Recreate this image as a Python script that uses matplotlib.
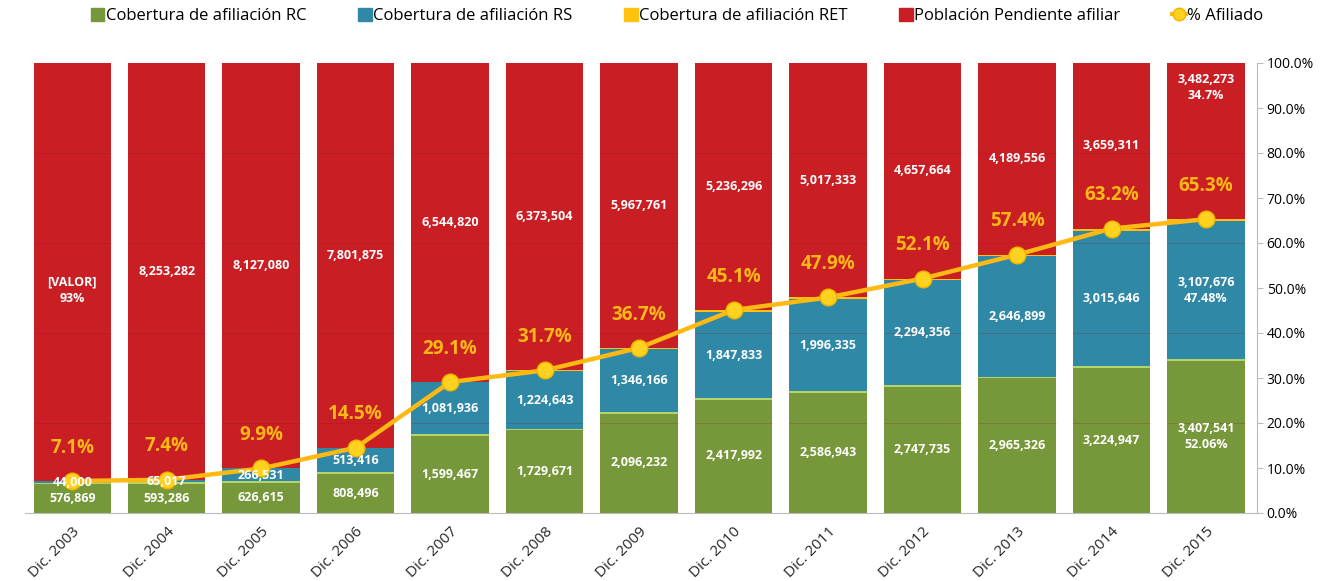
import matplotlib
matplotlib.use("Agg")
import matplotlib.pyplot as plt
import numpy as np
from matplotlib.lines import Line2D
from matplotlib.patches import Patch

categories = ["Dic. 2003", "Dic. 2004", "Dic. 2005", "Dic. 2006", "Dic. 2007", "Dic. 2008",
              "Dic. 2009", "Dic. 2010", "Dic. 2011", "Dic. 2012", "Dic. 2013", "Dic. 2014", "Dic. 2015"]
rc = [576869, 593286, 626615, 808496, 1599467, 1729671, 2096232, 2417992, 2586943, 2747735,
      2965326, 3224947, 3407541]
rs = [44000, 65017, 266531, 513416, 1081936, 1224643, 1346166, 1847833, 1996335, 2294356,
      2646899, 3015646, 3107676]
ret = [0, 0, 0, 0, 5000, 8000, 18000, 36000, 30000, 24000, 32000, 43000, 30194]
pendiente = [8120000, 8253282, 8127080, 7801875, 6544820, 6373504, 5967761, 5236296, 5017333,
             4657664, 4189556, 3659311, 3482273]
pct_afiliado = [7.1, 7.4, 9.9, 14.5, 29.1, 31.7, 36.7, 45.1, 47.9, 52.1, 57.4, 63.2, 65.3]

rc_labels = ["576,869", "593,286", "626,615", "808,496", "1,599,467", "1,729,671", "2,096,232",
             "2,417,992", "2,586,943", "2,747,735", "2,965,326", "3,224,947", "3,407,541\n52.06%"]
rs_labels = ["44,000", "65,017", "266,531", "513,416", "1,081,936", "1,224,643", "1,346,166",
             "1,847,833", "1,996,335", "2,294,356", "2,646,899", "3,015,646", "3,107,676\n47.48%"]
pend_labels = ["[VALOR]\n93%", "8,253,282", "8,127,080", "7,801,875", "6,544,820", "6,373,504",
               "5,967,761", "5,236,296", "5,017,333", "4,657,664", "4,189,556", "3,659,311",
               "3,482,273\n34.7%"]
line_labels = ["7.1%", "7.4%", "9.9%", "14.5%", "29.1%", "31.7%", "36.7%", "45.1%", "47.9%",
               "52.1%", "57.4%", "63.2%", "65.3%"]
legend_labels = ["Cobertura de afiliación RC", "Cobertura de afiliación RS",
                 "Cobertura de afiliación RET", "Población Pendiente afiliar", "% Afiliado"]

c_green = "#76973A"
c_blue = "#2F88A6"
c_yellow = "#FFC20E"
c_red = "#C91E24"
c_line = "#FFB914"

plt.rcParams['font.family'] = ['Open Sans', 'DejaVu Sans']

rc_a = np.array(rc, float)
rs_a = np.array(rs, float)
ret_a = np.array(ret, float)
pe_a = np.array(pendiente, float)
tot = rc_a + rs_a + ret_a + pe_a
p_rc = rc_a / tot * 100
p_rs = rs_a / tot * 100
p_ret = ret_a / tot * 100
p_pe = pe_a / tot * 100

fig = plt.figure(figsize=(13.2, 5.81), dpi=100)
ax = fig.add_axes([25/1320, 68/581, (1257-25)/1320, 450/581])
x = np.arange(len(categories))
w = 0.82
ax.bar(x, p_rc, w, color=c_green, zorder=2)
ax.bar(x, p_rs, w, bottom=p_rc, color=c_blue, zorder=2)
ax.bar(x, p_ret, w, bottom=p_rc + p_rs, color=c_yellow, zorder=2)
ax.bar(x, p_pe, w, bottom=p_rc + p_rs + p_ret, color=c_red, zorder=2)
# boundary highlight between green and blue
ax.bar(x, 0.35, w, bottom=p_rc - 0.175, color="#B5D56A", zorder=2.5)

# faint gridlines visible only over the bars
for yv in [20, 40, 60, 80]:
    ax.hlines([yv] * len(x), x - w / 2, x + w / 2, color="#8A1216", lw=0.6, alpha=0.25, zorder=3)

ax.plot(x, pct_afiliado, color=c_line, lw=3.2, marker="o", markersize=12,
        markerfacecolor="#FFD21F", markeredgecolor="#F0B400", zorder=5)

lbl_kw = dict(ha="center", va="center", color="white", fontsize=9, fontweight="bold",
              zorder=6, linespacing=1.3)
for i in range(len(x)):
    ax.text(x[i], p_rc[i] / 2, rc_labels[i], **lbl_kw)
    ax.text(x[i], p_rc[i] + p_rs[i] / 2, rs_labels[i], **lbl_kw)
    top_base = p_rc[i] + p_rs[i] + p_ret[i]
    if i == len(x) - 1:
        ax.text(x[i], 94.5, pend_labels[i], **lbl_kw)
    elif i == 0:
        ax.text(x[i], top_base + p_pe[i] / 2 - 4, pend_labels[i], **lbl_kw)
    else:
        ax.text(x[i], top_base + p_pe[i] / 2, pend_labels[i], **lbl_kw)
    ax.annotate(line_labels[i], (x[i], pct_afiliado[i]), xytext=(0, 24),
                textcoords="offset points", ha="center", va="center", color=c_line,
                fontsize=13.5, fontweight="bold", zorder=7)

ax.set_xlim(-0.5, 12.54)
ax.set_ylim(0, 100)
ax.set_xticks(x)
ax.set_xticklabels(categories, rotation=45, ha="right", rotation_mode="anchor",
                   fontsize=11, color="#262626")
ax.tick_params(axis="x", length=0, pad=8)
ax.yaxis.tick_right()
ax.set_yticks(np.arange(0, 101, 10))
ax.set_yticklabels([f"{v:.1f}%" for v in np.arange(0, 101, 10)], fontsize=7.5,
                   color="#404040", fontweight="bold")
ax.tick_params(axis="y", length=4, color="#BBBBBB", pad=3)
for s in ["top", "left"]:
    ax.spines[s].set_visible(False)
ax.spines["right"].set_color("#BBBBBB")
ax.spines["bottom"].set_color("#BBBBBB")
ax.spines["right"].set_position(("data", 12.54))

handles = [Patch(color=c_green), Patch(color=c_blue), Patch(color=c_yellow), Patch(color=c_red),
           Line2D([0], [0], color=c_line, lw=3, marker="o", markersize=9,
                  markerfacecolor="#FFD21F", markeredgecolor="#F0B400")]
fig.legend(handles, legend_labels, loc="upper center", bbox_to_anchor=(0.513, 1.012), ncol=5,
           frameon=False, fontsize=12, handlelength=0.8, handleheight=0.8, handletextpad=0.1,
           columnspacing=3.1)

fig.savefig("out.png", dpi=100, facecolor="white")
